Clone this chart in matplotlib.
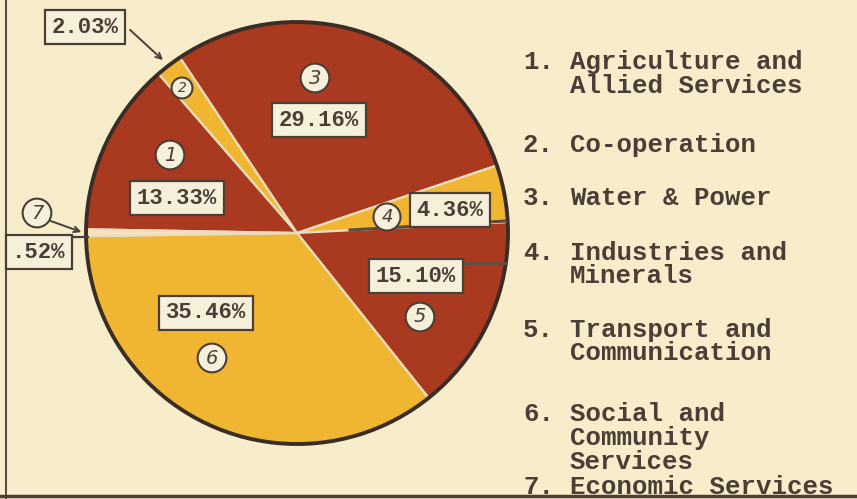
import matplotlib
matplotlib.use('Agg')
import matplotlib.pyplot as plt
from matplotlib.patches import Circle

# ---- data ----
numbers = ["1", "2", "3", "4", "5", "6", "7"]
categories = ["Agriculture and\nAllied Services", "Co-operation", "Water & Power",
              "Industries and\nMinerals", "Transport and\nCommunication",
              "Social and\nCommunity\nServices", "Economic Services"]
shares = [13.33, 2.03, 29.16, 4.36, 15.10, 35.46, 0.52]
pct_labels = ["13.33%", "2.03%", "29.16%", "4.36%", "15.10%", "35.46%", ".52%"]

# ---- style ----
BG = '#F7EDCB'
RED = '#A93A1F'
YEL = '#F1B631'
PALE = '#F3E4BC'
INK = '#4A3E37'
BOXFC = '#F6EFD9'
colors = [RED, YEL, RED, YEL, RED, YEL, PALE]
MONO = ['Liberation Mono', 'DejaVu Sans Mono']

W, H = 857, 499
fig = plt.figure(figsize=(W / 100, H / 100), dpi=100)
fig.patch.set_facecolor(BG)
ax = fig.add_axes([0, 0, 1, 1])
ax.set_facecolor(BG)


def Y(y):
    return H - y


cx, cy, R = 297, Y(233), 211
wedges, _ = ax.pie(shares, colors=colors, startangle=179, counterclock=False,
                   center=(cx, cy), radius=R,
                   wedgeprops=dict(edgecolor='#E9DDBE', linewidth=1.6))
ax.add_patch(Circle((cx, cy), R, fill=False, ec='#3A2D26', lw=2.8, zorder=3))
ax.set_xlim(0, W)
ax.set_ylim(0, H)
ax.set_aspect('equal')
ax.axis('off')

# ---- percentage boxes (layout positions in pixels) ----
box_pos = [(177, 198), (85, 27), (319, 120), (450, 210), (416, 276), (206, 313), (39, 252)]
for (x, y), s in zip(box_pos, pct_labels):
    ax.text(x, Y(y), s, ha='center', va='center', family=MONO, fontweight='bold',
            fontsize=16, color=INK, zorder=6,
            bbox=dict(boxstyle='square,pad=0.3', fc=BOXFC, ec=INK, lw=1.6))

# ---- circled numbers ----
circ_pos = [(170, 155), (182, 88), (315, 78), (387, 217), (420, 317), (212, 358), (37, 213)]
circ_size = [14, 10, 14, 13, 14, 14, 14]
for (x, y), n, fs in zip(circ_pos, numbers, circ_size):
    ax.text(x, Y(y), n, ha='center', va='center', fontsize=fs, color=INK, zorder=6,
            family=['DejaVu Sans'], style='italic',
            bbox=dict(boxstyle='circle,pad=0.25', fc=BOXFC, ec=INK, lw=1.5))

# ---- leader lines ----
ax.annotate('', xy=(165, Y(62)), xytext=(128, Y(28)), zorder=5,
            arrowprops=dict(arrowstyle='->', color=INK, lw=1.4))
ax.annotate('', xy=(84, Y(233)), xytext=(48, Y(220)), zorder=5,
            arrowprops=dict(arrowstyle='->', color=INK, lw=1.4))
ax.plot([72, 88], [Y(237), Y(237)], color=INK, lw=1.6, zorder=5)
ax.plot([350, 506], [Y(230), Y(221)], color='#5B4A3E', lw=2.2, zorder=5)
ax.plot([465, 506], [Y(263), Y(263)], color='#6B4A3E', lw=2.2, zorder=5)

# ---- frame lines ----
ax.plot([6, 6], [0, H], color='#5B4E44', lw=1.5, zorder=2)
ax.plot([0, W], [Y(496), Y(496)], color='#4A3E37', lw=2.5, zorder=2)

# ---- legend text ----
leg_y = [62, 145, 198, 253, 330, 414, 487]
line_gap = [24, 0, 0, 23, 23, 24, 0]
for n, cat, y, g in zip(numbers, categories, leg_y, line_gap):
    ax.text(523, Y(y), n + '.', ha='left', va='center', family=MONO,
            fontweight='bold', fontsize=18.5, color=INK)
    for i, line in enumerate(cat.split('\n')):
        ax.text(570, Y(y + i * g), line, ha='left', va='center', family=MONO,
                fontweight='bold', fontsize=18.5, color=INK)

fig.savefig('out.png', dpi=100, facecolor=BG)
